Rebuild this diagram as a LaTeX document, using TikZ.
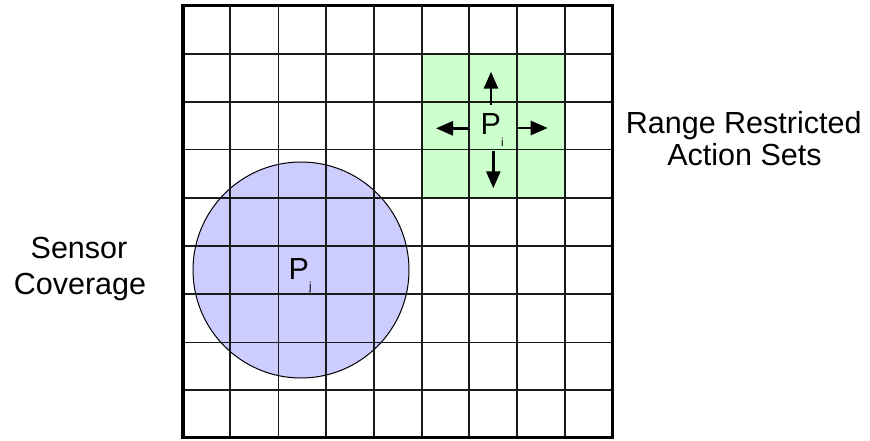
\documentclass[tikz,border=0pt]{standalone}
\usepackage{fontspec}
\setmainfont{Liberation Sans}
\usetikzlibrary{arrows.meta}
\definecolor{covblue}{HTML}{CCCCFF}
\definecolor{actgreen}{HTML}{CCFFCC}
\definecolor{gridcol}{HTML}{1A1A1A}
\begin{document}
\begin{tikzpicture}[x=1pt,y=-1pt,
  lbl/.style={inner sep=0pt, font=\fontsize{30.5}{33}\selectfont},
  gridline/.style={draw=gridcol, line width=1.6pt},
  border/.style={draw=black, line width=3.6pt},
  act/.style={draw=black, line width=2.7pt, -{Triangle[length=17pt,width=14pt]}},
  coverage/.style={fill=covblue, draw=black, line width=1pt}]
\useasboundingbox (0,0) rectangle (870,441);
% sensor coverage disc
\path[coverage] (301,270) circle[radius=108];
% range restricted action set
\fill[actgreen] (421.7,54) rectangle (565,197.7);
% grid
\foreach \x in {230,278.3,325.7,373.7,421.7,469,517,565}
  \draw[gridline] (\x,5.7) -- (\x,437.5);
\foreach \y in {54,102,149.5,197.7,246,293.7,342.3,390}
  \draw[gridline] (183,\y) -- (612.3,\y);
\draw[border] (183,5.7) rectangle (612.3,437.5);
% agents
\node[lbl, anchor=base west] (pj) at (288.5,279.3)
  {P\raisebox{-10.7pt}{\fontsize{11.5}{12}\selectfont j}};
\node[lbl, anchor=base west] (pi) at (480.5,135)
  {P\raisebox{-11.5pt}{\fontsize{11.5}{12}\selectfont i}};
% actions
\coordinate (up0) at (491,105);
\coordinate (up1) at (491,71.7);
\coordinate (dn0) at (493.3,151);
\coordinate (dn1) at (493.3,188.3);
\coordinate (lf0) at (469.3,128.3);
\coordinate (lf1) at (436,128.3);
\coordinate (rt0) at (518.3,128);
\coordinate (rt1) at (547.7,128);
\draw[act] (up0) -- (up1);
\draw[act] (dn0) -- (dn1);
\draw[act] (lf0) -- (lf1);
\draw[act] (rt0) -- (rt1);
% labels
\node[lbl, anchor=base] (rr1) at (743.7,133.3) {Range Restricted};
\node[lbl, anchor=base] (rr2) at (744.5,165.7) {Action Sets};
\node[lbl, anchor=base] (sc1) at (79,258.3) {Sensor};
\node[lbl, anchor=base] (sc2) at (80,294) {Coverage};
\end{tikzpicture}
\end{document}
